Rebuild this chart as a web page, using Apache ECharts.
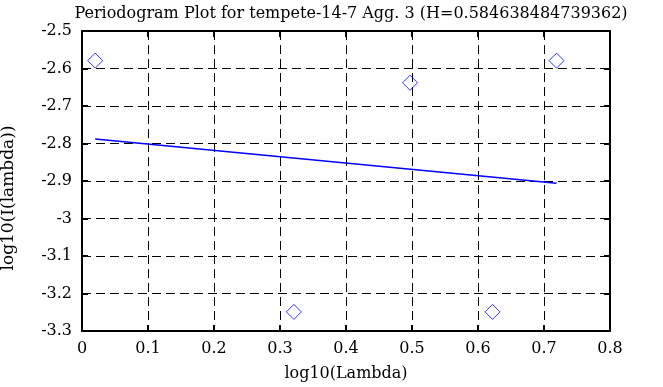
<!DOCTYPE html>
<html>
<head>
<meta charset="utf-8">
<script src="https://cdn.jsdelivr.net/npm/echarts@6/dist/echarts.min.js"></script>
<style>html,body{margin:0;padding:0;background:#fff}#c{width:663px;height:387px}</style>
</head>
<body>
<div id="c"></div>
<script>
const titleText = 'Periodogram Plot for tempete-14-7 Agg. 3 (H=0.584638484739362)';
const xName = 'log10(Lambda)';
const yName = 'log10(I(lambda))';
const pointX = [0.020, 0.321, 0.497, 0.622, 0.719];
const pointY = [-2.579, -3.249, -2.638, -3.249, -2.579];
const fitX = [0.020, 0.719];
const fitY = [-2.788, -2.906];
const xMin = 0, xMax = 0.8, xStep = 0.1;
const yMin = -3.3, yMax = -2.5, yStep = 0.1;

const font = 'DejaVu Serif';
const chart = echarts.init(document.getElementById('c'), null, {renderer: 'canvas'});
const axisCommon = {
  axisLine: {show: true, onZero: false, lineStyle: {color: '#000', width: 2}},
  axisTick: {show: true, inside: true, length: 6, lineStyle: {color: '#000', width: 2}},
};
chart.setOption({
  animation: false,
  backgroundColor: '#fff',
  title: {text: titleText, left: 346, textAlign: 'center', top: 1,
    textStyle: {fontFamily: font, fontSize: 16, fontWeight: 'normal', color: '#000'}},
  grid: {left: 82, right: 53, top: 31, bottom: 56},
  xAxis: [
    Object.assign({type: 'value', min: xMin, max: xMax, interval: xStep, position: 'bottom',
      name: xName, nameLocation: 'middle', nameGap: 35,
      nameTextStyle: {fontFamily: font, fontSize: 16, color: '#000'},
      axisLabel: {fontFamily: font, fontSize: 16, color: '#000', margin: 10},
      splitLine: {show: true, lineStyle: {color: '#000', type: [9, 5], width: 1}}}, axisCommon),
    Object.assign({type: 'value', min: xMin, max: xMax, interval: xStep, position: 'top',
      axisLabel: {show: false}, splitLine: {show: false}}, axisCommon)
  ],
  yAxis: [
    Object.assign({type: 'value', min: yMin, max: yMax, interval: yStep, position: 'left',
      axisLabel: {fontFamily: font, fontSize: 16, color: '#000', margin: 10},
      splitLine: {show: true, lineStyle: {color: '#000', type: [9, 5], width: 1}}}, axisCommon),
    Object.assign({type: 'value', min: yMin, max: yMax, interval: yStep, position: 'right',
      axisLabel: {show: false}, splitLine: {show: false}}, axisCommon)
  ],
  graphic: [{type: 'text', x: 9, y: 198, rotation: Math.PI / 2,
    style: {text: yName, font: '17px "' + font + '"', fill: '#000', align: 'center', verticalAlign: 'middle'}}],
  series: [
    {type: 'scatter', symbol: 'diamond', symbolSize: [15, 15],
      itemStyle: {color: 'rgba(0,0,0,0)', borderColor: '#0000ff', borderWidth: 1},
      data: pointX.map((x, i) => [x, pointY[i]])},
    {type: 'line', showSymbol: false, symbol: 'none',
      lineStyle: {color: '#0000ff', width: 1.5},
      data: fitX.map((x, i) => [x, fitY[i]])}
  ]
});
</script>
</body>
</html>
